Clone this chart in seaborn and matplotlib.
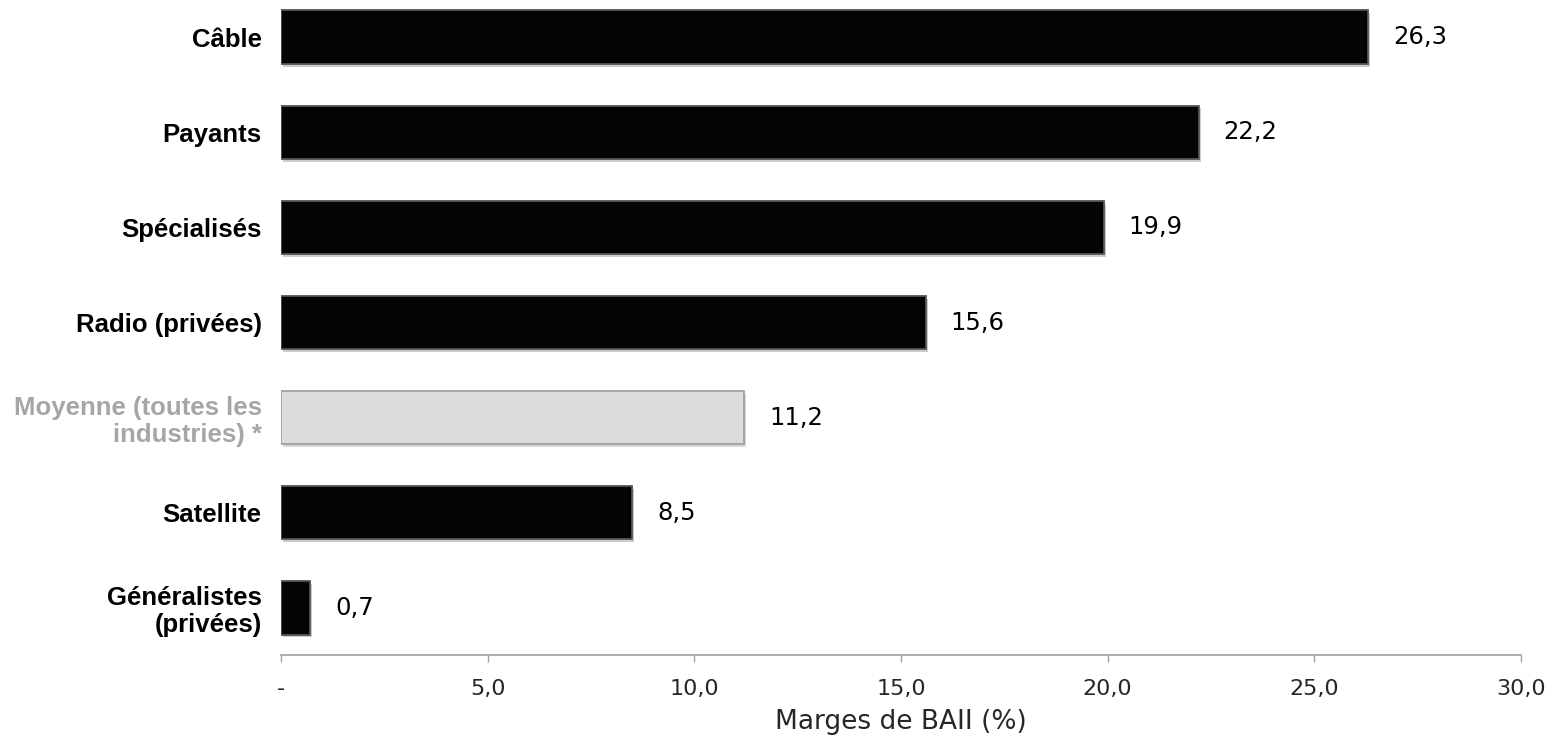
import seaborn as sns
import matplotlib.pyplot as plt
import matplotlib.patheffects as pe
import pandas as pd

# data
categories = ["Câble", "Payants", "Spécialisés", "Radio (privées)",
              "Moyenne (toutes les\nindustries) *", "Satellite",
              "Généralistes\n(privées)"]
marges = [26.3, 22.2, 19.9, 15.6, 11.2, 8.5, 0.7]
bar_colors = ["#050505", "#050505", "#050505", "#050505", "#dcdcdc", "#050505", "#050505"]
label_colors = ["black", "black", "black", "black", "#a6a6a6", "black", "black"]
xticks = [0, 5, 10, 15, 20, 25, 30]
xticklabels = ["-", "5,0", "10,0", "15,0", "20,0", "25,0", "30,0"]

df = pd.DataFrame({"cat": categories, "val": marges})

sns.set_style("white")
plt.rcParams['font.family'] = ['DejaVu Sans']

fig = plt.figure(figsize=(15.56, 7.40), dpi=100)
ax = fig.add_axes([0.1806, 0.1142, 0.7969, 0.8858])

sns.barplot(data=df, x="val", y="cat", hue="cat", palette=bar_colors,
            legend=False, width=0.56, orient="h", ax=ax, saturation=1)

for p, c in zip(ax.patches, bar_colors):
    p.set_edgecolor("#555555" if c != "#dcdcdc" else "#a0a0a0")
    p.set_linewidth(1.3)
    p.set_path_effects([pe.SimplePatchShadow(offset=(1.5, -2), alpha=0.2), pe.Normal()])

# value labels
for i, v in enumerate(marges):
    ax.annotate(f"{v:.1f}".replace(".", ","), xy=(v, i), xytext=(18, 0),
                textcoords="offset points", ha="left", va="center",
                fontsize=17.5, color="black")

ax.set_xlim(0, 30)
ax.set_ylim(6.5, -0.39)
ax.set_xticks(xticks)
ax.set_xticklabels(xticklabels, fontsize=16)
ax.tick_params(axis="x", length=5, width=1, color="#a0a0a0", pad=12, direction="out", bottom=True)
ax.tick_params(axis="y", length=0, pad=14)

ax.set_yticks(range(len(categories)))
ax.set_yticklabels(categories, fontsize=18.5, fontweight="bold",
                   fontfamily="Liberation Sans", ha="right", linespacing=1.15)
for lbl, c in zip(ax.get_yticklabels(), label_colors):
    lbl.set_color(c)

ax.set_ylabel("")
ax.set_xlabel("Marges de BAII (%)", fontsize=19, labelpad=7)

for s in ["top", "right", "left"]:
    ax.spines[s].set_visible(False)
ax.spines["bottom"].set_color("#a0a0a0")
ax.spines["bottom"].set_linewidth(1.2)

fig.savefig("out.png", dpi=100)
